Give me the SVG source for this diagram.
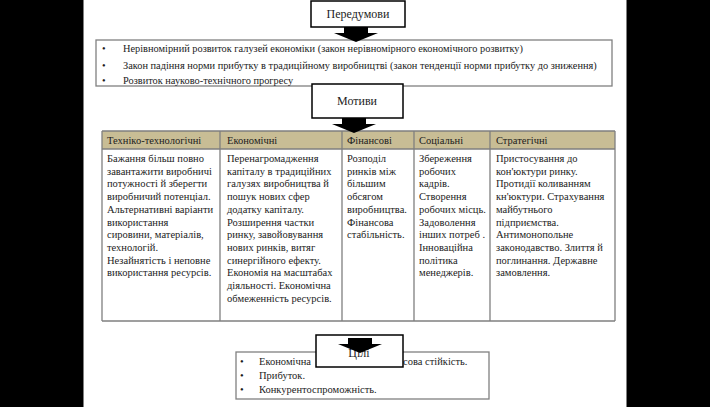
<svg xmlns="http://www.w3.org/2000/svg" width="710" height="407" viewBox="0 0 710 407" font-family="'Liberation Serif', 'DejaVu Serif', 'Times New Roman', serif">
<style>
text{font-family:'Liberation Serif','DejaVu Serif','Times New Roman',serif;fill:#1c1c1c}
.t{font-size:12px}
.b{font-size:10.5px}
.l{font-size:10.35px}
.h{font-size:10.5px}
.title{fill:#fff;stroke:#000;stroke-width:1.5}
.list{fill:#fff;stroke:#808080;stroke-width:1.3}
.grid{stroke:#7f7f7f;stroke-width:1.3;fill:none}
.arrow{fill:#000}
</style>
<defs>
<path id="arr" d="M-12,0 H12 V6 H22 L0,15 L-22,6 H-12 Z"/>
</defs>
<rect x="0" y="0" width="710" height="407" fill="#000"/>
<rect x="83.5" y="0" width="543" height="407" fill="#fff"/>

<g id="prereq-list">
<rect class="list" x="96" y="40" width="516" height="46"/>
<text class="l" x="102" y="52">•</text>
<text class="l" x="123" y="52">Нерівномірний розвиток галузей економіки (закон нерівномірного економічного розвитку)</text>
<text class="l" x="102" y="69">•</text>
<text class="l" x="123" y="69">Закон падіння норми прибутку в традиційному виробництві (закон тенденції норми прибутку до зниження)</text>
<text class="l" x="102" y="84">•</text>
<text class="l" x="123" y="84">Розвиток науково-технічного прогресу</text>
</g>

<g id="prereq-title">
<rect class="title" x="311" y="1" width="94" height="26"/>
<text class="t" x="358" y="18" text-anchor="middle">Передумови</text>
</g>

<g id="motives-table">
<rect x="102" y="131" width="513" height="18" fill="#c8bd95"/>
<line class="grid" x1="102" y1="131" x2="615" y2="131"/>
<line class="grid" x1="102" y1="149" x2="615" y2="149"/>
<line class="grid" x1="102" y1="321" x2="615" y2="321"/>
<line class="grid" x1="102" y1="131" x2="102" y2="321"/>
<line class="grid" x1="220" y1="131" x2="220" y2="321"/>
<line class="grid" x1="342" y1="131" x2="342" y2="321"/>
<line class="grid" x1="414" y1="131" x2="414" y2="321"/>
<line class="grid" x1="490" y1="131" x2="490" y2="321"/>
<line class="grid" x1="615" y1="131" x2="615" y2="321"/>
<text class="h" x="107" y="144">Техніко-технологічні</text>
<text class="h" x="227" y="144">Економічні</text>
<text class="h" x="347" y="144">Фінансові</text>
<text class="h" x="419" y="144">Соціальні</text>
<text class="h" x="496" y="144">Стратегічні</text>

<text class="b" x="107" y="162">Бажання більш повно</text>
<text class="b" x="107" y="174.7">завантажити виробничі</text>
<text class="b" x="107" y="187.4">потужності й зберегти</text>
<text class="b" x="107" y="200.1">виробничий потенціал.</text>
<text class="b" x="107" y="212.8">Альтернативні варіанти</text>
<text class="b" x="107" y="225.5">використання</text>
<text class="b" x="107" y="238.2">сировини, матеріалів,</text>
<text class="b" x="107" y="250.9">технологій.</text>
<text class="b" x="107" y="263.6">Незайнятість і неповне</text>
<text class="b" x="107" y="276.3">використання ресурсів.</text>

<text class="b" x="227" y="162">Перенагромадження</text>
<text class="b" x="227" y="174.7">капіталу в традиційних</text>
<text class="b" x="227" y="187.4">галузях виробництва й</text>
<text class="b" x="227" y="200.1">пошук нових сфер</text>
<text class="b" x="227" y="212.8">додатку капіталу.</text>
<text class="b" x="227" y="225.5">Розширення частки</text>
<text class="b" x="227" y="238.2">ринку, завойовування</text>
<text class="b" x="227" y="250.9">нових ринків, витяг</text>
<text class="b" x="227" y="263.6">синергійного ефекту.</text>
<text class="b" x="227" y="276.3">Економія на масштабах</text>
<text class="b" x="227" y="289">діяльності. Економічна</text>
<text class="b" x="227" y="301.7">обмеженність ресурсів.</text>

<text class="b" x="347" y="162">Розподіл</text>
<text class="b" x="347" y="174.7">ринків між</text>
<text class="b" x="347" y="187.4">більшим</text>
<text class="b" x="347" y="200.1">обсягом</text>
<text class="b" x="347" y="212.8">виробництва.</text>
<text class="b" x="347" y="225.5">Фінансова</text>
<text class="b" x="347" y="238.2">стабільність.</text>

<text class="b" x="419" y="162">Збереження</text>
<text class="b" x="419" y="174.7">робочих</text>
<text class="b" x="419" y="187.4">кадрів.</text>
<text class="b" x="419" y="200.1">Створення</text>
<text class="b" x="419" y="212.8">робочих місць.</text>
<text class="b" x="419" y="225.5">Задоволення</text>
<text class="b" x="419" y="238.2">інших потреб .</text>
<text class="b" x="419" y="250.9">Інноваційна</text>
<text class="b" x="419" y="263.6">політика</text>
<text class="b" x="419" y="276.3">менеджерів.</text>

<text class="b" x="496" y="162">Пристосування до</text>
<text class="b" x="496" y="174.7">кон'юктури ринку.</text>
<text class="b" x="496" y="187.4">Протидії коливанням</text>
<text class="b" x="496" y="200.1">кн'юктури. Страхування</text>
<text class="b" x="496" y="212.8">майбутнього</text>
<text class="b" x="496" y="225.5">підприємства.</text>
<text class="b" x="496" y="238.2">Антимонопольне</text>
<text class="b" x="496" y="250.9">законодавство. Злиття й</text>
<text class="b" x="496" y="263.6">поглинання. Державне</text>
<text class="b" x="496" y="276.3">замовлення.</text>
</g>

<g id="motives-title">
<rect class="title" x="312" y="84" width="91" height="34"/>
<text class="t" x="357" y="105" text-anchor="middle">Мотиви</text>
</g>

<g id="goals-list">
<rect class="list" x="236" y="352" width="253" height="47"/>
<text class="b" x="240" y="365">•</text>
<text class="b" x="259" y="365">Економічна</text>
<text class="b" x="403" y="365">сова стійкість.</text>
<text class="b" x="240" y="379">•</text>
<text class="b" x="259" y="379">Прибуток.</text>
<text class="b" x="240" y="393">•</text>
<text class="b" x="259" y="393">Конкурентоспроможність.</text>
</g>

<g id="goals-title">
<rect class="title" x="316" y="335" width="87" height="32"/>
<text class="t" x="359" y="357" text-anchor="middle">Цілі</text>
</g>

<g id="connectors">
<use href="#arr" class="arrow" transform="translate(356,27)"/>
<use href="#arr" class="arrow" transform="translate(354,118)"/>
<use href="#arr" class="arrow" transform="translate(360,338)"/>
</g>
</svg>
